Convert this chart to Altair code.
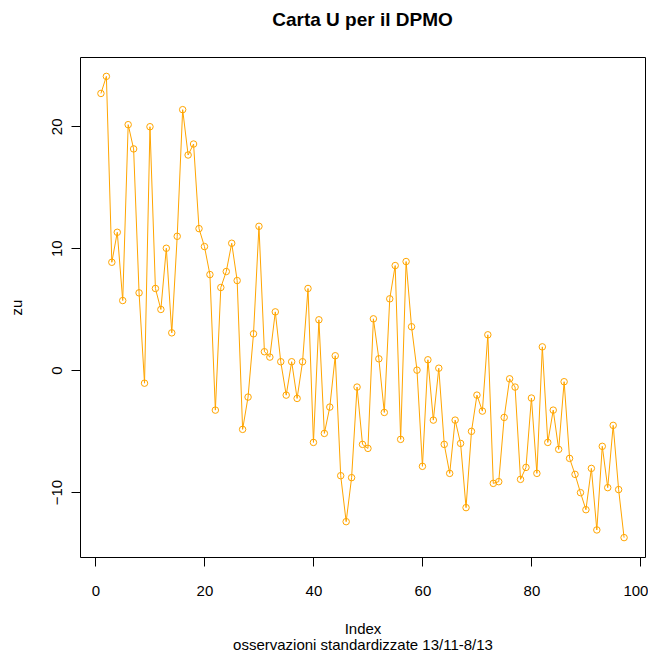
import altair as alt
import pandas as pd

zu = [22.7, 24.1, 8.85, 11.31, 5.71, 20.14, 18.15, 6.34, -1.07, 19.97,
      6.70, 4.98, 10.0, 3.06, 10.98, 21.37, 17.65, 18.55, 11.61, 10.14,
      7.84, -3.28, 6.78, 8.09, 10.41, 7.35, -4.86, -2.21, 2.98, 11.80,
      1.51, 1.07, 4.78, 0.69, -2.05, 0.69, -2.32, 0.69, 6.70, -5.93,
      4.13, -5.19, -3.03, 1.18, -8.66, -12.43, -8.82, -1.39, -6.09, -6.42,
      4.21, 0.93, -3.47, 5.85, 8.58, -5.68, 8.91, 3.56, 0.0, -7.89,
      0.85, -4.10, 0.16, -6.09, -8.47, -4.10, -6.01, -11.28, -5.02, -2.05,
      -3.36, 2.90, -9.29, -9.15, -3.88, -0.71, -1.39, -8.96, -7.98, -2.29,
      -8.47, 1.91, -5.93, -3.28, -6.50, -0.95, -7.24, -8.55, -10.05, -11.45,
      -8.06, -13.11, -6.25, -9.64, -4.53, -9.80, -13.74]
index = list(range(1, len(zu) + 1))
x_ticks = [0, 20, 40, 60, 80, 100]
y_ticks = [-10, 0, 10, 20]

df = pd.DataFrame({"Index": index, "zu": zu})

FONT = "Liberation Sans"
ORANGE = "#FFA500"

x = alt.X("Index:Q",
          scale=alt.Scale(domain=[-2.84, 100.84], nice=False, zero=False),
          axis=alt.Axis(values=x_ticks, grid=False, domain=False,
                        tickSize=9, tickColor="black", tickWidth=1,
                        labelPadding=17, labelFontSize=15, labelFont=FONT,
                        labelColor="black", labelFlush=False,
                        labelOffset={"condition": {"test": "datum.value == 100", "value": -5},
                                     "value": 0},
                        title=["Index", "osservazioni standardizzate 13/11-8/13"],
                        titleFont=FONT, titleFontSize=15, titleFontWeight="normal",
                        titleColor="black", titleBaseline="alphabetic",
                        titleY=76, titleLineHeight=16))
y = alt.Y("zu:Q",
          scale=alt.Scale(domain=[-15.33, 25.69], nice=False, zero=False),
          axis=alt.Axis(values=y_ticks, grid=False, domain=False,
                        tickSize=9, tickColor="black", tickWidth=1,
                        labelAngle=270, labelAlign="center", labelBaseline="alphabetic",
                        labelPadding=10, labelFontSize=15, labelFont=FONT,
                        labelColor="black", labelFlush=False,
                        title="zu", titleFont=FONT, titleFontSize=15,
                        titleFontWeight="normal", titleColor="black",
                        titleAngle=270, titleAlign="center", titleBaseline="alphabetic",
                        titleX=-59, titleY=250))

line = alt.Chart(df).mark_line(color=ORANGE, strokeWidth=1).encode(x=x, y=y)
pts = alt.Chart(df).mark_point(shape="circle", filled=False, color=ORANGE,
                               size=42, strokeWidth=1, opacity=1).encode(x=x, y=y)

chart = (line + pts).properties(
    width=565, height=500,
    title=alt.TitleParams("Carta U per il DPMO", font=FONT, fontSize=19,
                          fontWeight="bold", color="black", anchor="middle",
                          frame="group", baseline="bottom", offset=8),
    autosize=alt.AutoSizeParams(type="none"),
    padding={"left": 72, "top": 49, "right": 3, "bottom": 96},
).configure(background="white").configure_view(stroke="black", strokeWidth=1)

chart.save("out.html", embed_options={"renderer": "svg", "actions": False})
